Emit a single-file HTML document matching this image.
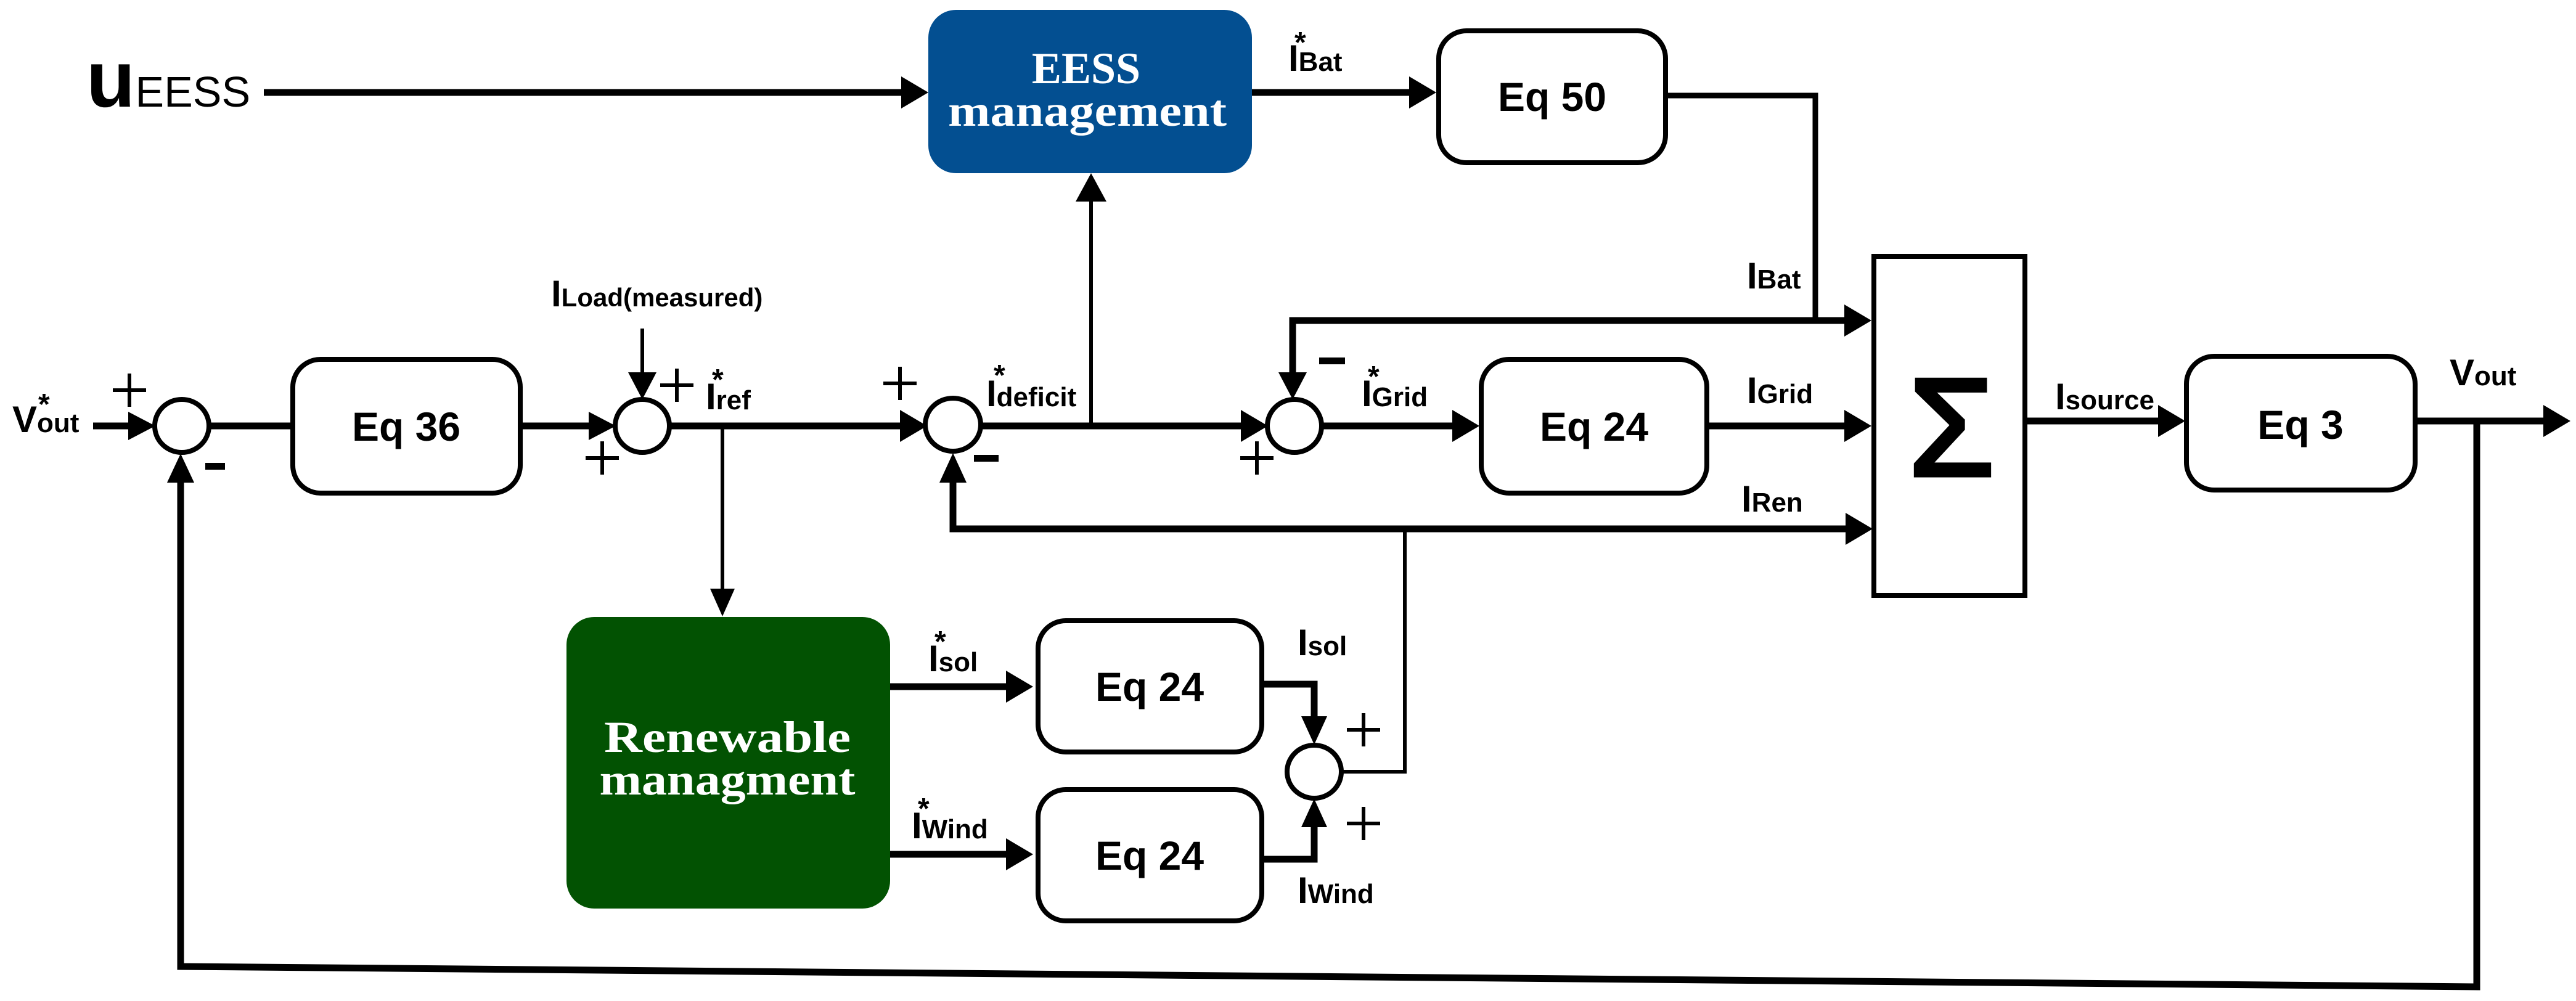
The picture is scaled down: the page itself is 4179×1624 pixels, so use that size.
<!DOCTYPE html>
<html><head><meta charset="utf-8"><style>
html,body{margin:0;padding:0;background:#fff;}
svg{display:block;}
text{font-family:"Liberation Sans",sans-serif;font-weight:bold;fill:#000;}
.s{font-family:"Liberation Serif",serif;fill:#fff;font-weight:bold;}
</style></head><body>
<svg width="4179" height="1624" viewBox="0 0 4179 1624" xmlns="http://www.w3.org/2000/svg">
<g fill="none" stroke="#000" stroke-linejoin="miter">
<g stroke-width="11">
<line x1="428" y1="150" x2="1470" y2="150"/>
<line x1="2031" y1="150" x2="2292" y2="150"/>
<polyline points="2702,155 2945,155 2945,520" stroke-width="9"/>
<polyline points="2097,612 2097,520 3000,520"/>
<line x1="151" y1="691" x2="215" y2="691"/>
<line x1="338" y1="691" x2="475" y2="691"/>
<line x1="844" y1="691" x2="962" y2="691"/>
<line x1="1085" y1="691" x2="1467" y2="691"/>
<line x1="1590" y1="691" x2="2020" y2="691"/>
<line x1="2143" y1="691" x2="2362" y2="691"/>
<line x1="2769" y1="691" x2="3000" y2="691"/>
<polyline points="1546,780 1546,858 3002,858"/>
<line x1="3286" y1="683" x2="3508" y2="683"/>
<line x1="3918" y1="683" x2="4130" y2="683"/>
<polyline points="4018,683 4018,1601 293,1568 293,780"/>
<line x1="1444" y1="1114" x2="1638" y2="1114"/>
<line x1="1444" y1="1386" x2="1638" y2="1386"/>
<polyline points="2047,1110 2132,1110 2132,1168"/>
<polyline points="2047,1394 2132,1394 2132,1336"/>
</g>
<g stroke-width="6">
<line x1="1042" y1="533" x2="1042" y2="612"/>
<line x1="1770" y1="691" x2="1770" y2="320"/>
<line x1="1172" y1="691" x2="1172" y2="962"/>
<polyline points="2279,858 2279,1252 2175,1252"/>
</g>
<g stroke-width="8">
<ellipse cx="295" cy="691" rx="44" ry="43"/>
<ellipse cx="1042" cy="691" rx="44" ry="43"/>
<ellipse cx="1546" cy="689" rx="45" ry="43"/>
<ellipse cx="2100" cy="691" rx="44" ry="43"/>
<ellipse cx="2132" cy="1252" rx="44" ry="43"/>
<rect x="475" y="583" width="369" height="217" rx="45"/>
<rect x="2334" y="50" width="368" height="214" rx="45"/>
<rect x="2403" y="583" width="366" height="217" rx="45"/>
<rect x="3547" y="578" width="371" height="217" rx="45"/>
<rect x="1684" y="1007" width="363" height="213" rx="45"/>
<rect x="1684" y="1281" width="363" height="213" rx="45"/>
<rect x="3040" y="416" width="245" height="550"/>
</g>
</g>
<g fill="#000">
<polygon points="1506,150 1462,124 1462,176"/>
<polygon points="2330,150 2286,124 2286,176"/>
<polygon points="3036,520 2992,494 2992,546"/>
<polygon points="2097,648 2074,604 2120,604"/>
<polygon points="252,691 208,668 208,714"/>
<polygon points="999,691 955,668 955,714"/>
<polygon points="1042,648 1019,604 1065,604"/>
<polygon points="1504,691 1460,665 1460,717"/>
<polygon points="2057,691 2013,665 2013,717"/>
<polygon points="1770,281 1745,327 1795,327"/>
<polygon points="1172,1000 1152,955 1192,955"/>
<polygon points="2400,691 2356,665 2356,717"/>
<polygon points="3036,691 2992,665 2992,717"/>
<polygon points="1546,735 1524,783 1568,783"/>
<polygon points="3038,858 2994,832 2994,884"/>
<polygon points="3545,683 3501,657 3501,709"/>
<polygon points="4170,683 4126,657 4126,709"/>
<polygon points="293,736 271,783 315,783"/>
<polygon points="1676,1114 1632,1088 1632,1140"/>
<polygon points="1676,1386 1632,1360 1632,1412"/>
<polygon points="2132,1208 2111,1162 2153,1162"/>
<polygon points="2132,1296 2111,1342 2153,1342"/>
</g>
<rect x="1506" y="16" width="525" height="265" rx="45" fill="#034f91"/>
<text class="s" x="1762" y="135" font-size="72" text-anchor="middle">EESS</text>
<text class="s" x="1764" y="204" font-size="72" text-anchor="middle" textLength="452" lengthAdjust="spacingAndGlyphs">management</text>
<rect x="919" y="1001" width="525" height="473" rx="45" fill="#025202"/>
<text class="s" x="1180" y="1220" font-size="72" text-anchor="middle" textLength="400" lengthAdjust="spacingAndGlyphs">Renewable</text>
<text class="s" x="1180" y="1289" font-size="72" text-anchor="middle" textLength="415" lengthAdjust="spacingAndGlyphs">managment</text>
<g font-size="66" text-anchor="middle">
<text x="659" y="715">Eq 36</text>
<text x="2518" y="180">Eq 50</text>
<text x="2586" y="715">Eq 24</text>
<text x="3732" y="712">Eq 3</text>
<text x="1865" y="1137">Eq 24</text>
<text x="1865" y="1411">Eq 24</text>
</g>
<text x="3166" y="771" font-size="225" text-anchor="middle" stroke="#000" stroke-width="7" style="font-weight:normal">Σ</text>
<g stroke="#000" stroke-width="6" fill="none">
<path d="M183 633h54M210 606v54"/>
<path d="M1071 625h54M1098 598v54"/>
<path d="M950 743h54M977 716v54"/>
<path d="M1433 622h54M1460 595v54"/>
<path d="M2012 743h54M2039 716v54"/>
<path d="M2185 1184h54M2212 1157v54"/>
<path d="M2185 1336h54M2212 1309v54"/>
</g>
<g fill="#000">
<rect x="333" y="751" width="32" height="11"/>
<rect x="1580" y="738" width="40" height="11"/>
<rect x="2140" y="580" width="42" height="11"/>
</g>
<text x="140" y="173" font-size="130" font-weight="bold">u<tspan font-size="70" style="font-weight:normal">EESS</tspan></text>
<text x="20" y="701" font-size="60">V<tspan font-size="44">out</tspan></text>
<text x="62" y="672" font-size="48">*</text>
<text x="894" y="497" font-size="60">I<tspan font-size="42">Load(measured)</tspan></text>
<text x="1145" y="664" font-size="60">I<tspan font-size="44">ref</tspan></text>
<text x="1155" y="632" font-size="48">*</text>
<text x="1600" y="659" font-size="60">I<tspan font-size="44">deficit</tspan></text>
<text x="1612" y="625" font-size="48">*</text>
<text x="2090" y="115" font-size="60">I<tspan font-size="44">Bat</tspan></text>
<text x="2100" y="85" font-size="48">*</text>
<text x="2834" y="468" font-size="60">I<tspan font-size="44">Bat</tspan></text>
<text x="2209" y="659" font-size="60">I<tspan font-size="44">Grid</tspan></text>
<text x="2219" y="627" font-size="48">*</text>
<text x="2834" y="654" font-size="60">I<tspan font-size="44">Grid</tspan></text>
<text x="2825" y="830" font-size="60">I<tspan font-size="44">Ren</tspan></text>
<text x="3334" y="664" font-size="60">I<tspan font-size="44">source</tspan></text>
<text x="3974" y="625" font-size="60">V<tspan font-size="44">out</tspan></text>
<text x="1506" y="1089" font-size="60">I<tspan font-size="44">sol</tspan></text>
<text x="1516" y="1057" font-size="48">*</text>
<text x="2105" y="1063" font-size="60">I<tspan font-size="44">sol</tspan></text>
<text x="1479" y="1360" font-size="60">I<tspan font-size="44">Wind</tspan></text>
<text x="1489" y="1328" font-size="48">*</text>
<text x="2105" y="1465" font-size="60">I<tspan font-size="44">Wind</tspan></text>
</svg>
</body></html>
